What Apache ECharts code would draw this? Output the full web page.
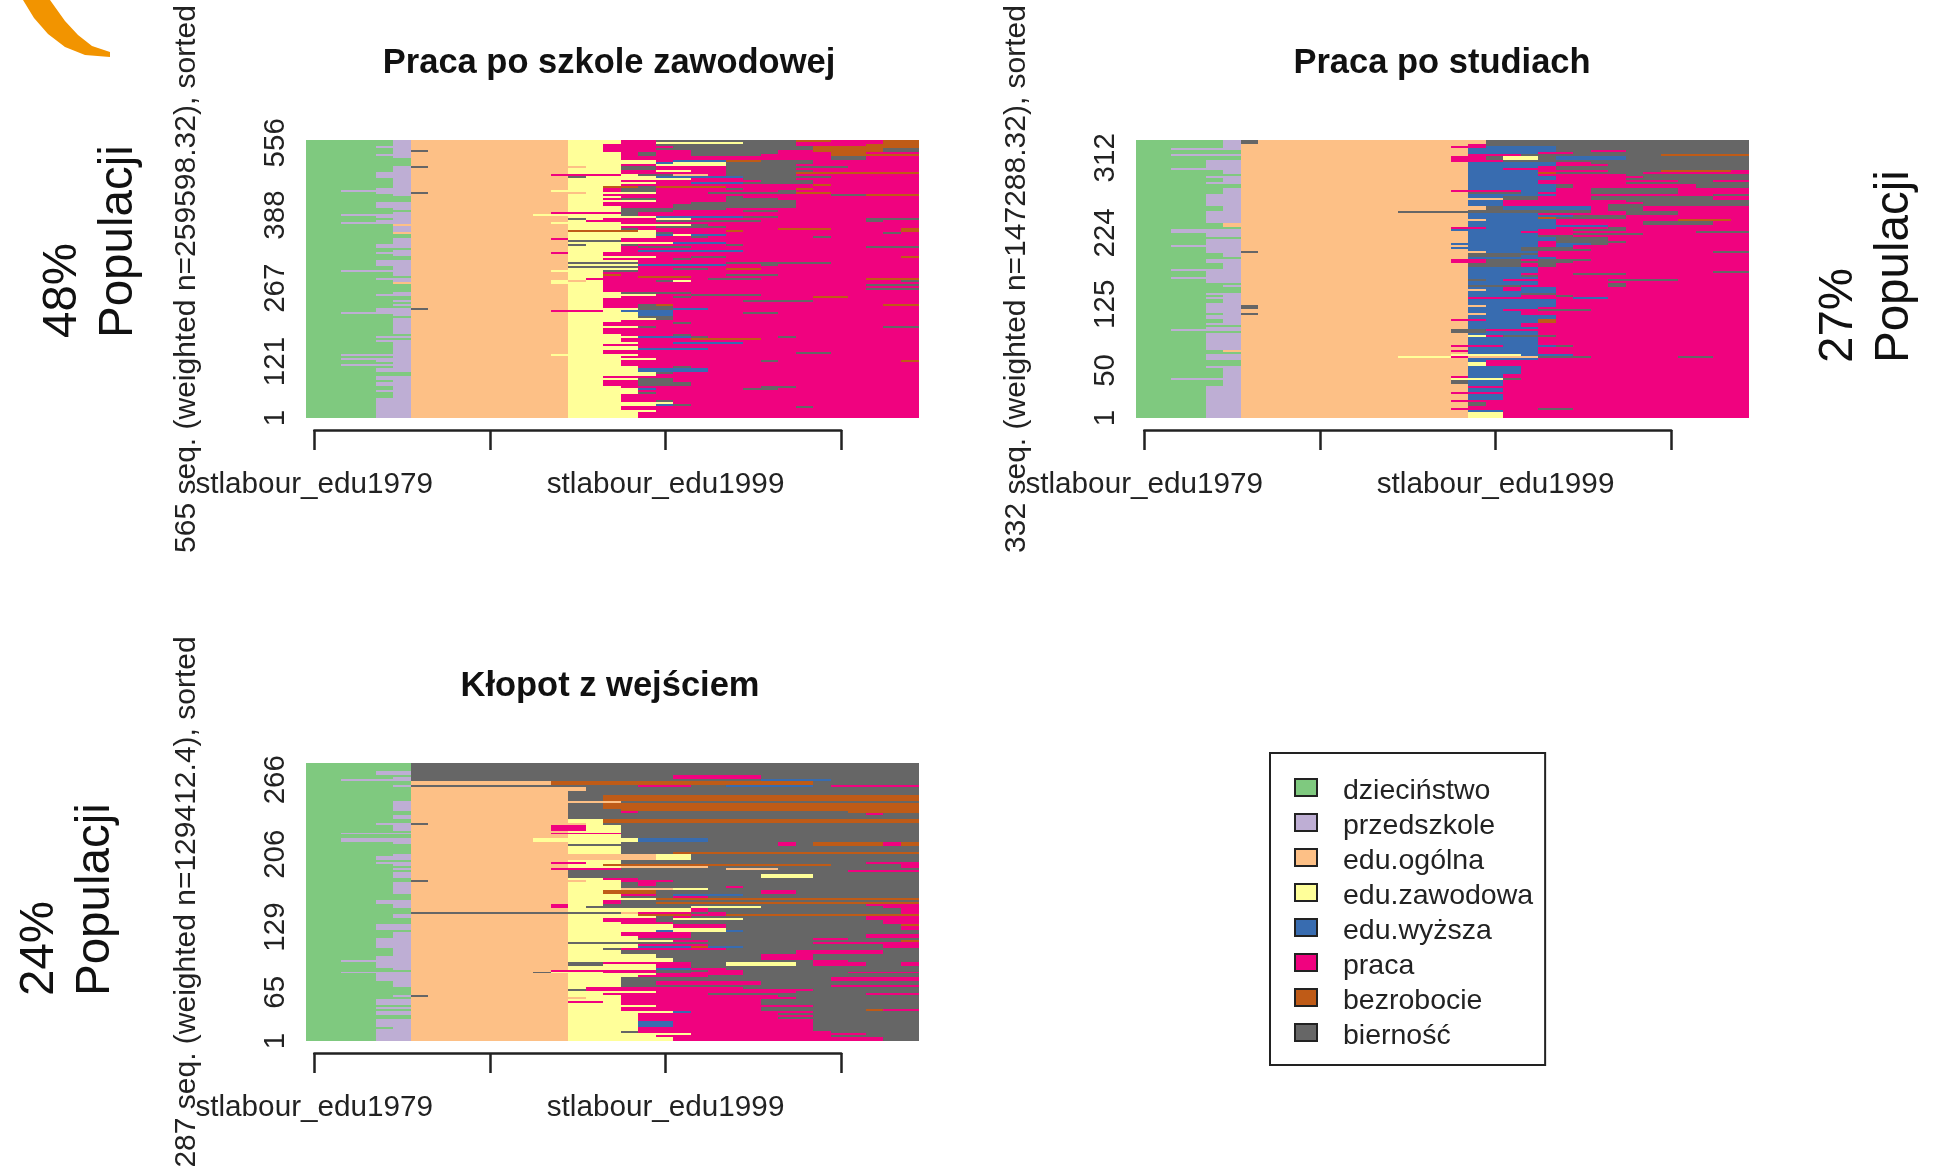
<!DOCTYPE html>
<html><head><meta charset="utf-8">
<style>html,body{margin:0;padding:0;background:#fff}#c{width:1940px;height:1166px;filter:blur(0.5px)}</style>
<script src="https://cdn.jsdelivr.net/npm/echarts@6/dist/echarts.min.js"></script>
</head><body><div id="c"></div>
<script>
// Each row is one sequence band, top to bottom. Each token = state letter + column where that spell ends (0..35).
const stateCodes = ['A','B','C','D','E','F','G','H'];
const stateNames = ['dzieciństwo','przedszkole','edu.ogólna','edu.zawodowa','edu.wyższa','praca','bezrobocie','bierność'];
const stateColors = ['#7FC97F','#BEAED4','#FDC086','#FFFF99','#386CB0','#F0027F','#BF5B17','#666666'];
const titles = ['Praca po szkole zawodowej','Praca po studiach','Kłopot z wejściem'];
const yTitles = ['565 seq. (weighted n=259598.32), sorted','332 seq. (weighted n=147288.32), sorted','287 seq. (weighted n=129412.4), sorted'];
const yTickLabels = [['1','121','267','388','556'],['1','50','125','224','312'],['1','65','129','206','266']];
const yTickShares = [[0.0,0.203,0.467,0.73,0.99],[0.0,0.171,0.409,0.666,0.936],[0.0,0.175,0.41,0.672,0.94]];
const xTickLabels = {0:'stlabour_edu1979',20:'stlabour_edu1999'};
const rows1 = [
'A5B6C15D18F20H28G30F33G35','A5B6C15D18F20D25H28F33G35','A5B6C15D17F20H28F32G35','A4B6C15D17F21H29G33G35','A5B6C15D17F20H29G33H35',
'A5B6H7C15D17F22H27F29G33H35','A5B6C15D18F19H20F22H27F30G32F35','A4B6C15D18F19H20F22H26F30G35','A5B6C15D18F30H32F35','A6C15D18F30H32F35',
'A6C15D20F21E24G26H29F35','A6C15D20E21D24H29F35','A6C15D18F20D24H28F35','A5B6H7C16D18H20F24H27H31F35','A5B6C15D18H20F24H28F35',
'A5B6C15D18F20D22F24H28H29F35','A4B6C15D18F24H28G35','A4B6C14F18D19H21C23F24H28F35','A4B6C15H16D20E25H28H30F35','A5B6C15D18D20D22F25H28F35',
'A5B6C15D18F22F26H28H29F35','A5B6C15D18D20F22E25H29F35','A5B6C15D18F29G30F35','A5B6C15D17G19H20G24F35','A4B6C15D17F18H20F24H25F28G29F35',
'A2B6C14D17F18H20F27H28F35','A4B6H7C15C16D17D20F23H28G30F35','A5B6C15D17F18F30H32G35','A6C15D18F24H25F35','A6C15D17F18H20F24H27F35',
'A6C15D18D20F24H28F35','A4B6C15D17F21F22H28F35','A4B6C15D17F21H28F35','A4B6C15D18F21H28F35','A5B6C15D18H21H24F35',
'A6C15D18H21F25H27F35','A5B6C14F18H19F35','A2B6C13D15D18H19F35','A4B6C15D17D20E25H27F35','A5B6C15H16D17F20D22F32H33H35',
'A4B6C15D16F17F20H26F32H33F35','A2B6C14D15D18F35','A5C6C15D20D22H23F35','A5B6C15D18F20H24F35','A5B6C15D18H19F27G30F34G35',
'A5B6C15G19D20F24G25F34G35','A5C6C15D20H21F33H34F35','A6C15D20E21D22E24F35','A6C15D20F22H23F29H30F35','A5B6C14F15D18F35',
'A5B6C15H18F35','A5B6C15D19D21E24F35','A4B6C15H16D18H19F24H25F35','A4B6C15D18F19H22F32H35','A6C15D16D18F35',
'A5B6C15D16D18F19E25F35','A4B6C14F15D17F35','A5B6C15D17F35','A6C15D18D20F22H24F34G35','A6C15D17F21H22F35',
'A4B6C15D19F35','A4B6C15H19F24H30F35','A4B6C15D19E24F26H27F35','A5B6C15H19F35','A5B6C15D19F21H23F24G26F35',
'A2B6C14D17H19F35','A5B6C15D17F35','A5B6C15D17G18F24H27F35','A6C15D17F19G22F35','A4B6C15D16F17F23H26F32G35',
'A5B6C14D15C16D17F20H21D22F34H35',
'A5C6C14D17F35','A6C15D17F32H35','A6C15D17F35','A6C15D17F32H35','A6C15D17F35',
'A5B6C15D18H20H22F35','A4B6C15D18D20F22H26F35','A6C15D18F21H22F29G31F35','A6C15D17F35','A5B6C15D17F25H29F35',
'A6C15D17F35','A5B6C15D17F19H20G21F33G35','A6C15D17F19H21F35','A4B6H7C15D18D19H21E23F35','A4B6C14F17D18E21F35',
'A2B6C15D17D19E21F25H27F35','A5B6C15D19E21F35','A6C15D17D19H20H21F35','A5B6C15D17D20H21F35','A5B6C15D18F35',
'A5B6C15D17F21H22F35','A5B6C15D17F35','A5B6C15D19H20F33H35','A5B6C15D17F35','A5B6C15D17F35',
'A5B6C15D17F35','A6C15D18F21H22F35','A4B6C15D19E22H23F27H28F35','A6C15D18F22G26F35','A4B6C15D18F35',
'A5B6C15D19F21E25F35','A5B6C15D17F35','A5B6C15D19F35','A5B6C15D19E23F35','A5B6C15D17F35',
'A5B6C15D17F28H30F35','A2B6C14D15D19F35','A5B6C15D18F35','A2B6C15D18D20F35','A4B6C15D18F26H27F34G35',
'A5B6C15D18F35','A2B6C15D18F35','A5B6C15D19F21H22F35','A4B6C15D19E23F35','A4B6C15D19E23F35',
'A6C15D20H21F35','A6C15D20F35','A4B6C15D17F35','A4B6C15D17D19H21F35','A5B6C15D17F19H21F35',
'A4B6C15D17F19H22F35','A4B6C15D17F19H22F35','A5B6C15D18F26H28F35','A5B6C15D18D19E20F25H27F35','A4B6C15D17D19F35',
'A5B6C15D19H20F35','A5B6C15D18F35','A5B6C15D18F35','A4B6C15D18F35','A4B6C15D18F20H21F35',
'A4B6C15D21F35','A4B6C15D20E21H22F35','A4B6C15D18F28H29F35','A4B6C15D18F35','A4B6C15D20F35',
'A4B6C15D19F35','A4B6C15D19F35','A4B6C15D19F35'
];
const rows2 = [
'A5B6H7C20H35','A5B6H7C20H35','A5B6C19F20H35','A5B6C18F20E24H35','A2B6C19E24H35',
'A6C19E24H26F28H35','A6C19E23F25H35','A2B6C19F22H30G35','A6C18F20H21D23H24E28H35','A6C18F20H21D23H24E28H35',
'A4B6C18F21H35','A4B6C19E24F26H35','A4B6C19E24F27H35','A4B6C19E23F24H35','A2B6C19E21F23F24H35',
'A5B6C19E23F27H30G34F35','A5B6C19E23G24H29F35','A6C19E23F28H35','A4B6C19E23E24F28F29H35','A5B6C19E24F28H35',
'A5B6C19E23F31H33F35','A4B6C19E23F28H35','A6C19E24H25F32H35','A6C19E24H25F32H35','A5B6C19E24F26H31F35',
'A5B6C18F22E24F26H31F35','A5B6C19H22E23F26H31F35','A4B6C19E23E24F33H35','A4B6C19E21H23F26H33F35','A4B6C21H23F26H33F35',
'A4B6C19E21F28H35','A4B6C19E21F29H35','A4B6C19E21F27H29H35','A5B6C20H21E26F27H29F35','A5B6C20H21E26F27H29F35',
'A5B6C19H26F27H29F35','A4B6C15H20H26F28H31F35','A4B6C19E23F28H31F35','A4B6C19E25H28F35','A4B6C19E23G24H28F35',
'A4B6C20E24F31G34F35','A4B6C19E24F29H33F35','A5C6C19E24F29H33F35','A5C6C19E24E27F35','A6C18F20E24F27H28F35',
'A2B6C18E19E23F25H28F35','A2B6C19E22F25F32H35','A4B6C19E23F25H29F35','A4B6C19E23H25F35','A6C19E24H27F35',
'A4B6C19E23E24H27F35','A4B6C19E23F24H27H28F35','A4B6C18E19E23F24E26H27F35','A2B6C18C19E23F24E25F35','A4B6C18E19E22H25F35',
'A4B6C19E22H26F35','A4B6H7C20E23F26F33H35','A5B6C19H23F35','A5B6C19H22E23F26F35','A6C19E24F35',
'A4B6C18F20H22F23H24H26F35','A4B6C18F20H23H25F35','A5B6C19H22F23H24F35','A5B6C19H22F23H24F35','A5B6C19E23F35',
'A2B6C19E23F35','A4B6C19E23F33H35','A4B6C19E22F25H28F35','A4B6C19E22H23F35','A2B6C19E23F35',
'A4B6C19H20E21F23F27H31F35',
'A4B6C19E23F35','A6C19E23F27H28F35','A5B6C19H22F27H28F35','A6C19E21F22E24F35','A6C20E21F22E24F35',
'A6C19E24F35','A4B6C19E22H24F35','A5B6C19E22F24H25F35','A4B6C19F23F25E27F35','A5B6C19E24F35',
'A5B6C19E24F35','A4B6C19E24F35','A4B6H7C20E24F35','A4B6H7C19E23F35','A4B6C19E21F23H26F35',
'A4B6C19E22F24F35','A5B6H7C20E22F24F35','A4B6C19E24F35','A4B6C19E24F35','A5B6C18F20E23G24F35',
'A5B6C19E23G24F35','A4B6C19E22F23F35','A6C19E22F23F35','A4B6C19E23F35','A2B6C18H20F23F35',
'A6C18H20E23F35','A4B6C19E23F35','A4B6C19D20F21H24F35','A4B6C19E23F35','A4B6C19E23F35',
'A4B6C19E23F35','A4B6C19E23F35','A4B6C18F21E24H25F35','A4B6C19E23F35','A4B6C19E23F35',
'A5C6C18F19E23F35','A6C19E23F35','A4B6C18D22E25F35','A4B6C15D18F19C23H26F31H33F35','A4B6C19E23F35',
'A6C19E20F35','A6C19D20F35','A6C19D20F35','A4B6C19E22F35','A5B6C19E22F35',
'A5B6C19E22F35','A5B6C19E22F35','A5B6C19E21F35','A5B6C18F19E21F35','A2B6C18D21H22F35',
'A5B6C18H19E21F35','A5B6C18H19E21F35','A5B6C19E21F35','A4B6C18C19F21F35','A4B6C19E21F35',
'A4B6C18C19E21F35','A4B6C18F21F35','A4B6C19E21F35','A4B6C19E21F35','A4B6C19E21F35',
'A4B6C18F19F35','A4B6C19H20F35','A4B6C19H20F35','A4B6C19F35','A4B6C18F19F23H25F35',
'A4B6C19E21F35','A4B6C19D21F35','A4B6C19D21F35','A4B6C19D21F35'
];
const rows3 = [
'A6H35','A6H35','A6H35','A6H35','A4B6H35','A4B6H35',
'A6H21F26H35','A5B6H21F26H35','A2B6H26E30H35','A6C14G29H35','A6C14G29H35',
'A5B6H19F22H24E29H30F35','A6C16H35','A6C16H35','A6C15H35','A6C15H35',
'A6C15H17G35','A6C15H17G35','A6C15H17G35','A5B6C15C18H35','A5B6C15H17G35',
'A5B6C15H17G35','A5B6C15H17G35','A5B6C15H18G35','A6C15H18F19H31G35','A6C15H32F33H35',
'A5B6C15H35','A5B6C15H35','A6C15D17G35','A6C15D17G35','A4B6H7C15C16D17H35',
'A5B6C14F16D18H35','A5B6C14F16D18H35','A5B6C14F16D18H35','A6C15D18H35','A2B6C14F18H35',
'A6C14C15D18H35','A6C15D18H35','A2B6C13D15D19E23H35','A2B6C13D15D19E23H35','A5B6C15D18H27F28H29G33F34G35',
'A6C15H27F28H29G33F34G35','A6C15D18H35','A6C15D18H35','A6C15D18H35','A6C15D18H21G35',
'A5B6C20D22H35','A4B6C20D22H35','A4B6C20D22H35','A6C15D18H35','A4B6C14F16D18H32F35',
'A5B6C15D17G30H34F35','A6C15D18C23H34F35','A5B6C14F18H24C27H35','A6C15H31F35','A5B6C15H35',
'A5B6C15H26D29H35','A5B6C15H26D29H35','A6C15D17F19H35','A6H7C16D18F19F21H35','A5B6C15D18H19F20H35',
'A5B6C15D18H19F20H35','A5B6C15D18H24F25H35','A5B6C15D18C21D23H35','A5B6C15D17G20H26F28H35','A5B6C15D17G20H26F28H35',
'A6C15D17D18F20H21E25H35','A6C15D18H21F23H35','A6C15D18D20G35','A4B6C15D17F18H35',
'A4B6C15D17F18H20G35','A5B6C14F15D17H32F35','A5B6C14F15D16H22D26H33F35','A6C15D16D22F23H34F35','A6C15D22F23H34F35',
'A6H18C19F22H23F24H34F35','A5B6C15D17D19G22F24G35','A5B6C15D17D20H21F22H32F35','A6C15D17F20H21D25H32F35','A6C15D17F20H33F35',
'A6C15D18F21H33F35','A4B6C15D18D21F24H34G35','A4B6C15D18D21F24H34F35','A4B6C15D18D24H34F35','A6C15D20E21D24E25H35',
'A5B6C15D18F22H35','A5B6C15D18F22H32F35','A5B6C15D19F22H32F35','A4B6C15D19H29F31H35','A4B6C15D19D21F23H34G35',
'A4B6C15H19H29F35','A4B6C15D19F23H33F35','A4B6C15D19E22G23E25H33F35','A5B6C15D17H18F24H35','A5B6C15D18H28F33H35',
'A5B6C15D18H28F33H35','A5B6C15D20H26F29H35','A4B6C15D20H26F29H35','A4B6C15D20D21H26F29H35','A2B6C15D21H29F31H35',
'A4B6C15H17F22H24D28H29F32H34F35','A4B6C15H17D20F22H24D28H29F32H34F35','A4B6C15D20F22H35','A5B6C15D20E22F24H35','A6C14F20H23F25H35',
'A2B6C13H14D17F20H22F25H31F35','A4B6C15D19D20F22F25H35','A4B6C15D19F23H35','A4B6C15D18H30F35','A4B6C15D18H30F35',
'A5B6C15D18H20F26H35','A5B6C15D18H20F26H35','A5B6C15D18H30F35','A6C15D16F25H35','A6C15H16F29H35',
'A6C15D17D20F28H35','A6C15D17F23H27H32F35','A5B6H7C15D18F27H35','A6C15C16D18F28H35','A4B6C15D18F26H35',
'A4B6C15F17D18F26H35','A4B6C15D18F26H35','A6C15D18D20F26F29H35','A4B6C15D18F26H29H35','A6C15D18F26H32G33F35',
'A4B6C15D19D21E22F29H35','A4B6C15D19F27H29H35','A6C15D19F29H35','A6C15D19F27H29H35','A4B6C15D19F29H35',
'A4B6C15D19E21F29H35','A4B6C15D19E21F29H35','A4B6C15D19E21F29H35','A5B6C15D19F29H35','A4B6C15D19F29H35',
'A4B6C15D18H19F30H35','A4B6C15D18D22F30F32H35','A4B6C15D20F30H35','A4B6C15D21F33H35','A4B6C15D21F33H35'
];
const panelRows = [rows1,rows2,rows3];

const W=613,H=278;
const plotPos=[[305.5,140],[1135.5,140],[305.5,763]];
const FONT='"Liberation Sans",Arial,sans-serif';

function spells(rows){
  const out=stateCodes.map(()=>[]);
  const n=rows.length;
  rows.forEach((r,i)=>{
    let prev=0;
    for(const m of r.matchAll(/([A-H])(\d+)/g)){
      const end=+m[2];
      if(end>prev){ out[stateCodes.indexOf(m[1])].push([prev,end,n-i,n-i-1]); prev=end; }
    }
  });
  return out;
}
function renderRect(params,api){
  const a=api.coord([api.value(0),api.value(2)]);
  const b=api.coord([api.value(1),api.value(3)]);
  const x0=Math.round(a[0]),x1=Math.round(b[0]),y0=Math.round(a[1]),y1=Math.round(b[1]);
  return {type:'rect',shape:{x:x0,y:y0,width:x1-x0,height:y1-y0},style:{fill:api.visual('color')},silent:true};
}
const grid=[],xAxis=[],yAxis=[],series=[],title=[];
panelRows.forEach((rows,p)=>{
  const [l,t]=plotPos[p];
  const n=rows.length;
  grid.push({left:l,top:t,width:W,height:H,outerBoundsMode:'none'});
  xAxis.push({type:'value',gridIndex:grid.length-1,min:0,max:35,show:false});
  const vals=yTickShares[p].map(s=>s*n);
  yAxis.push({type:'value',gridIndex:grid.length-1,min:0,max:n,
    name:yTitles[p],nameLocation:'middle',nameRotate:90,nameGap:104,
    nameTextStyle:{fontFamily:FONT,fontSize:30,color:'#222'},
    axisLine:{show:false},axisTick:{show:false},splitLine:{show:false},
    axisLabel:{customValues:vals,rotate:90,margin:15,fontFamily:FONT,fontSize:29.5,color:'#222',
      formatter:v=>{const i=vals.findIndex(x=>Math.abs(x-v)<1e-6);return i>=0?yTickLabels[p][i]:'';}}});
  const gi=grid.length-1;
  spells(rows).forEach((data,s)=>{
    series.push({type:'custom',name:stateNames[s],xAxisIndex:gi,yAxisIndex:gi,data,
      encode:{x:[0,1],y:[2,3]},renderItem:renderRect,itemStyle:{color:stateColors[s]},
      animation:false,silent:true,clip:true});
  });
  // time axis drawn below the plot, running from the first to the last ticked year
  grid.push({left:l+W/70,top:t+H+11,width:W*30/35+1.5,height:1,outerBoundsMode:'none'});
  const ai=grid.length-1;
  xAxis.push({type:'value',gridIndex:ai,min:0,max:30,interval:10,position:'bottom',
    axisLine:{show:true,onZero:false,lineStyle:{color:'#222',width:2.5}},
    axisTick:{show:true,length:20,lineStyle:{color:'#222',width:2.5}},splitLine:{show:false},
    axisLabel:{margin:40,fontFamily:FONT,fontSize:29.7,color:'#222',showMinLabel:true,showMaxLabel:true,
      formatter:v=>xTickLabels[v]||''}});
  yAxis.push({type:'value',gridIndex:ai,show:false});
});
const titleX=[609,1442,610], titleY=[63,63,686];
titles.forEach((t,i)=>title.push({text:t,left:titleX[i],top:titleY[i],textAlign:'center',textVerticalAlign:'middle',
  textStyle:{fontFamily:FONT,fontWeight:'bold',fontSize:34.5,color:'#111'},padding:0}));

function sideText(x,y,text){
  return {type:'text',x,y,rotation:Math.PI/2,silent:true,
    style:{text,font:'47.5px '+FONT,fill:'#111',align:'left',verticalAlign:'middle',lineHeight:56}};
}
const option={
  backgroundColor:'#fff',animation:false,title,grid,xAxis,yAxis,series,
  legend:{data:stateNames,orient:'vertical',left:1270,top:753,
    backgroundColor:'#fff',borderColor:'#222',borderWidth:2,borderRadius:0,
    padding:[16,12,14,24],itemWidth:22,itemHeight:17,itemGap:-2,icon:'rect',selectedMode:false,
    itemStyle:{borderColor:'#222',borderWidth:2},
    formatter:n=>'{a|'+n+'}',
    textStyle:{padding:[0,0,0,21],rich:{a:{fontFamily:FONT,fontSize:28.5,color:'#222',padding:[8,0,0,0],lineHeight:22}}}},
  graphic:[
    sideText(91,338,'48%\nPopulacji'),
    sideText(1867,363,'27%\nPopulacji'),
    sideText(68,996,'24%\nPopulacji'),
    {type:'polygon',silent:true,shape:{points:[[23,0],[34,18],[48,34],[65,47],[85,55],[110,57],[110,52],[92,46],[78,35],[65,21],[50,0]]},style:{fill:'#F29400'}}
  ]
};
const chart=echarts.init(document.getElementById('c'),null,{renderer:'canvas',devicePixelRatio:1,width:1940,height:1166});
chart.setOption(option);
</script>
</body></html>
